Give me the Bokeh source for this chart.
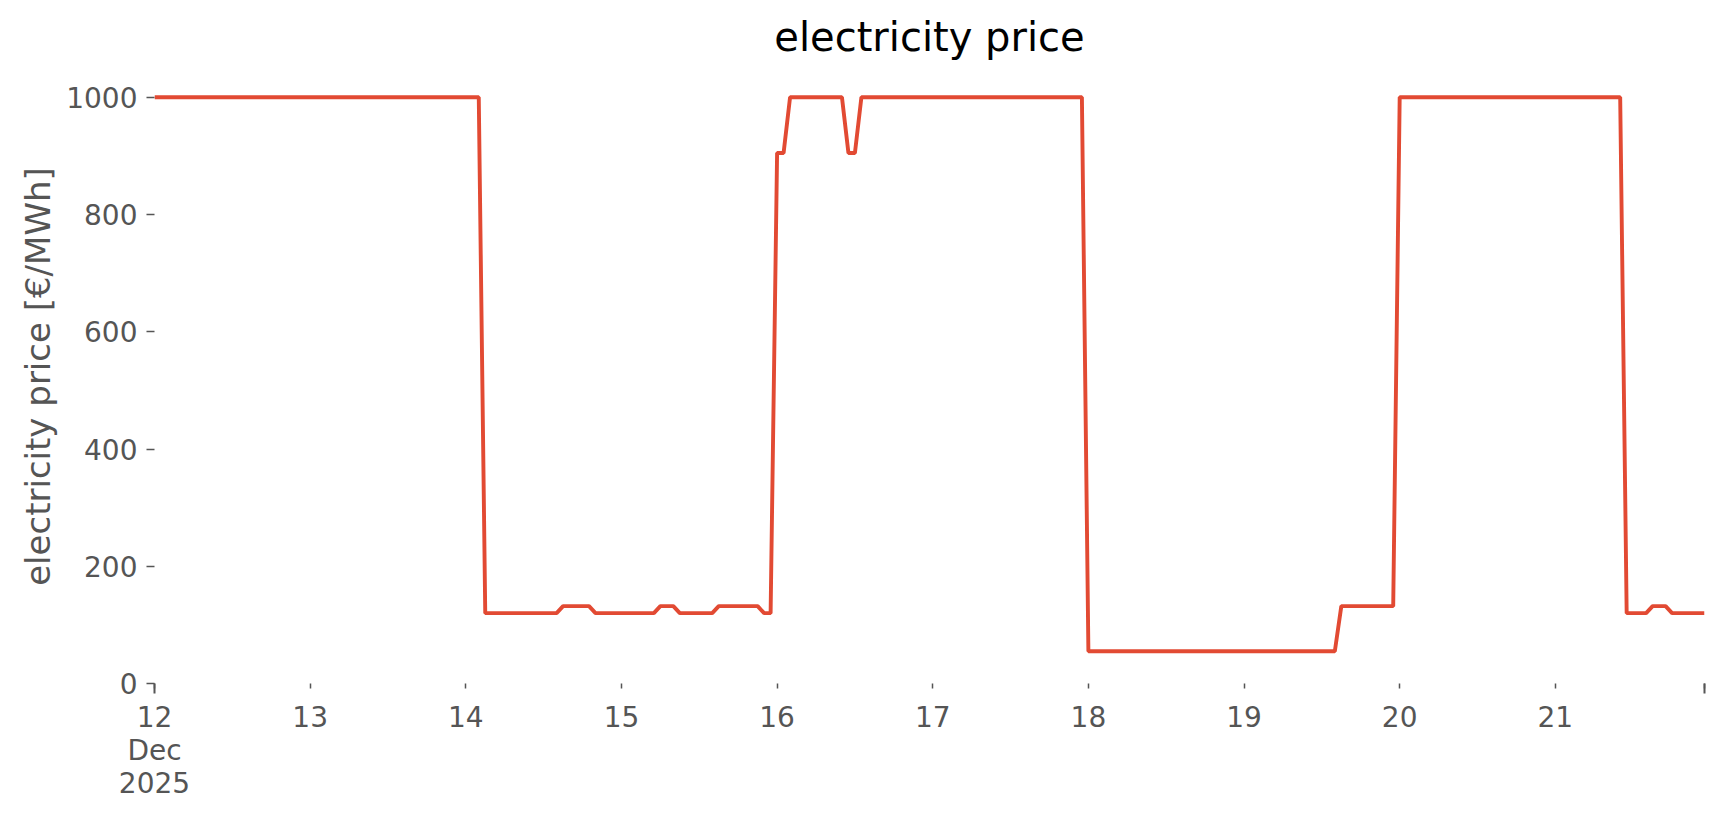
import numpy as np
import pandas as pd
from bokeh.plotting import figure
from bokeh.models import FixedTicker, Range1d
from bokeh.embed import file_html
from bokeh.resources import INLINE

# hourly electricity price, 12 Dec 2025 00:00 .. 21 Dec 2025 23:00 (run-length encoded)
price_levels = [1000, 120, 132, 120, 132, 120, 132, 120, 905, 1000, 905, 1000,
                55, 132, 1000, 120, 132, 120]
run_hours = [51, 12, 5, 10, 3, 6, 7, 2, 2, 9, 2, 35, 39, 9, 35, 4, 3, 6]
start = "2025-12-12 00:00"
y_ticks = [0, 200, 400, 600, 800, 1000]
day_labels = ["12\nDec\n2025", "13", "14", "15", "16", "17", "18", "19", "20", "21"]

prices = np.repeat(price_levels, run_hours)
times = pd.date_range(start, periods=len(prices), freq="h")

def ms(t):
    return pd.Timestamp(t).value / 1e6

t0, t1 = ms(times[0]), ms(times[-1])
day_ticks = [ms(d) for d in pd.date_range(times[0], periods=len(day_labels), freq="D")]

p = figure(width=1716, height=810, x_axis_type="datetime",
           output_backend="svg", toolbar_location=None,
           min_border_left=154, min_border_right=12,
           min_border_top=69, min_border_bottom=127,
           x_range=Range1d(t0, t1), y_range=Range1d(0, 1047.4),
           title="electricity price")
p.line(times, prices, line_color="#E24A33", line_width=3.9)

p.title.align = "center"
p.title.text_font = "DejaVu Sans"
p.title.text_font_size = "40px"
p.title.text_font_style = "normal"
p.title.text_color = "#000000"
p.title.standoff = 20

p.outline_line_color = None
p.xgrid.grid_line_color = None
p.ygrid.grid_line_color = None
p.background_fill_color = "white"

xa = p.xaxis[0]
xa.ticker = FixedTicker(ticks=day_ticks + [t1], minor_ticks=[t0, t1])
overrides = {int(t) if float(t).is_integer() else t: lab for t, lab in zip(day_ticks, day_labels)}
overrides[t1] = ""
xa.major_label_overrides = overrides
xa.axis_line_color = None
xa.major_tick_line_color = "#555555"
xa.minor_tick_line_color = "#555555"
xa.major_tick_line_width = 1.5
xa.minor_tick_line_width = 2
xa.major_tick_in = 0
xa.major_tick_out = 5
xa.minor_tick_in = 0
xa.minor_tick_out = 10
xa.major_label_text_font = "DejaVu Sans"
xa.major_label_text_font_size = "28px"
xa.major_label_text_line_height = 1.0
xa.major_label_text_color = "#555555"
xa.major_label_standoff = 7

ya = p.yaxis[0]
ya.ticker = FixedTicker(ticks=y_ticks)
ya.axis_line_color = None
ya.major_tick_line_color = "#555555"
ya.major_tick_line_width = 1.5
ya.minor_tick_line_color = None
ya.major_tick_in = 0
ya.major_tick_out = 8
ya.major_label_text_font = "DejaVu Sans"
ya.major_label_text_font_size = "28px"
ya.major_label_text_color = "#555555"
ya.major_label_standoff = 9
ya.axis_label = "electricity price [€/MWh]"
ya.axis_label_text_font = "DejaVu Sans"
ya.axis_label_text_font_size = "34px"
ya.axis_label_text_font_style = "normal"
ya.axis_label_text_color = "#555555"
ya.axis_label_standoff = 5

open("out.html", "w").write(file_html(p, INLINE))
